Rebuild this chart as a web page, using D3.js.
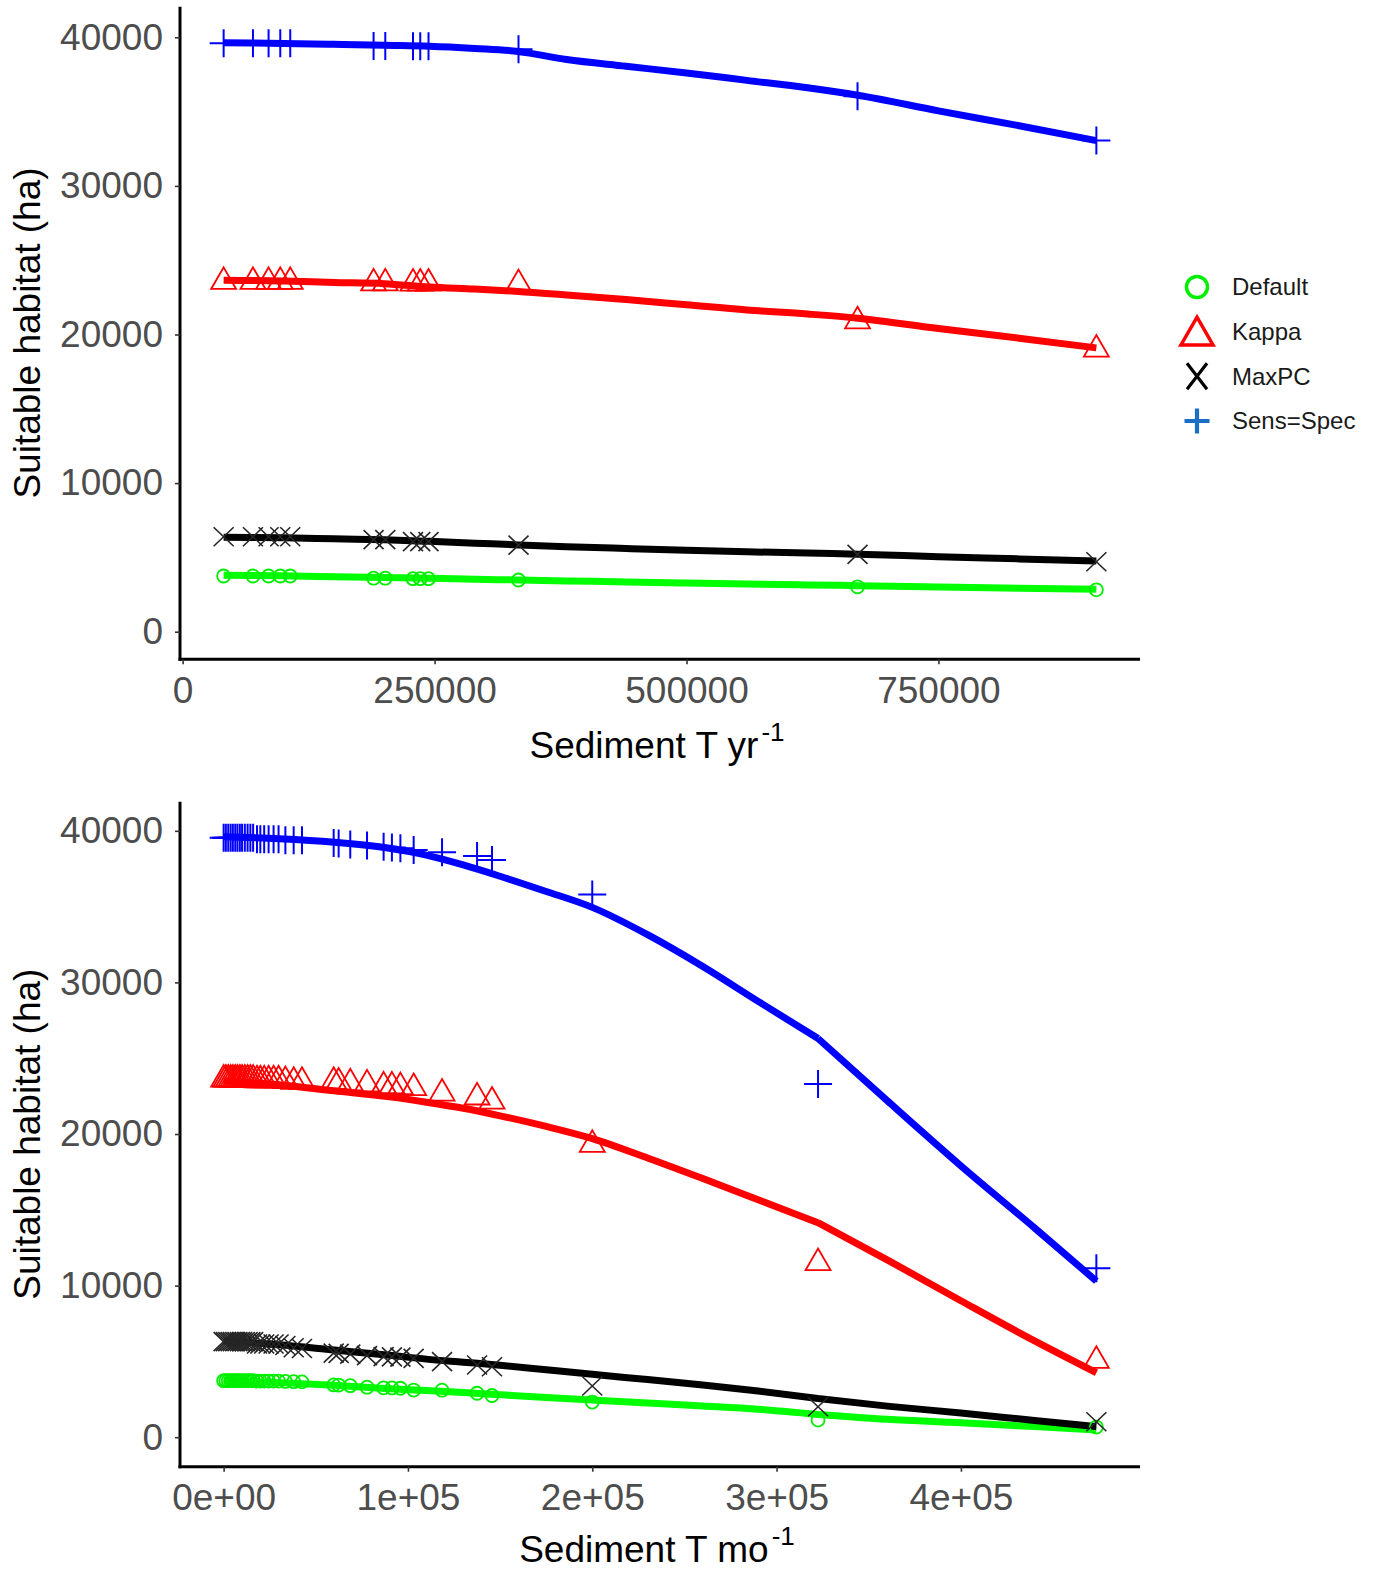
<!DOCTYPE html>
<html><head><meta charset="utf-8">
<script src="https://cdn.jsdelivr.net/npm/d3@7"></script>
<style>
body{margin:0;background:#fff}
svg{display:block}
text{font-family:"Liberation Sans",Arial,Helvetica,sans-serif}
</style>
</head><body>
<svg id="chart" width="1377" height="1573"></svg>
<script>
// ---------------- DATA ----------------
const seriesNames = ["Default", "Kappa", "MaxPC", "Sens=Spec"];
const yTicks = [0, 10000, 20000, 30000, 40000];
const topXTicks = [0, 250000, 500000, 750000];
const topXTickLabels = ["0", "250000", "500000", "750000"];
const bottomXTicks = [0, 100000, 200000, 300000, 400000];
const bottomXTickLabels = ["0e+00", "1e+05", "2e+05", "3e+05", "4e+05"];

// Top panel: Sediment T yr^-1 (observed points)
const topX = [40700, 69800, 85300, 96900, 106800, 189500, 201100, 228600, 235800, 244000, 333300, 669700, 906700];
const topDefault  = [3750, 3750, 3750, 3750, 3750, 3600, 3600, 3570, 3570, 3570, 3480, 3020, 2820];
const topKappa    = [23550, 23550, 23550, 23550, 23550, 23450, 23450, 23440, 23440, 23440, 23400, 20900, 19000];
const topMaxPC    = [6390, 6390, 6390, 6390, 6390, 6200, 6200, 6060, 6060, 6060, 5830, 5200, 4710];
const topSensSpec = [39600, 39600, 39600, 39600, 39600, 39420, 39420, 39400, 39400, 39400, 39190, 36030, 33060];

// Top panel: fitted lines
const topLineX = [40700, 100000, 150000, 200000, 245000, 290000, 333000, 381000, 440000, 500000, 560000, 620000, 670000, 750000, 830000, 906700];
const topLineDefault  = [3800, 3760, 3700, 3640, 3590, 3530, 3480, 3420, 3350, 3280, 3210, 3150, 3100, 3000, 2920, 2850];
const topLineKappa    = [23650, 23600, 23500, 23420, 23200, 23060, 22900, 22660, 22350, 22000, 21650, 21380, 21100, 20400, 19750, 19100];
const topLineMaxPC    = [6350, 6320, 6250, 6180, 6080, 5960, 5840, 5720, 5600, 5480, 5380, 5290, 5220, 5050, 4900, 4750];
const topLineSensSpec = [39630, 39590, 39530, 39460, 39400, 39250, 39050, 38500, 38050, 37600, 37100, 36600, 36100, 35050, 34050, 33050];

// Bottom panel: Sediment T mo^-1 (observed points)
const botX = [0, 1200, 2500, 3800, 5000, 6300, 7500, 8800, 10000, 11500, 13000, 14500, 16000, 18100, 19900, 22000, 24400, 27100, 29800, 33500, 38000, 42500, 59700, 62400, 68700, 77800, 86800, 91300, 95900, 103100, 118500, 137500, 145600, 200000, 322500, 473500];
const botDefault  = [3730, 3730, 3730, 3730, 3730, 3730, 3730, 3730, 3730, 3730, 3730, 3730, 3730, 3700, 3700, 3700, 3700, 3700, 3700, 3680, 3660, 3650, 3450, 3440, 3400, 3300, 3260, 3250, 3230, 3110, 3100, 2900, 2750, 2320, 1130, 670];
const botKappa    = [23600, 23600, 23600, 23600, 23600, 23600, 23600, 23600, 23600, 23600, 23600, 23600, 23600, 23550, 23550, 23550, 23550, 23550, 23550, 23500, 23450, 23450, 23450, 23400, 23350, 23280, 23150, 23150, 23100, 23040, 22680, 22420, 22150, 19300, 11500, 5050];
const botMaxPC    = [6300, 6300, 6300, 6300, 6300, 6300, 6300, 6300, 6300, 6300, 6300, 6300, 6300, 6150, 6150, 6150, 6150, 6150, 6150, 6050, 5900, 5850, 5550, 5530, 5480, 5380, 5310, 5300, 5280, 5200, 4980, 4760, 4650, 3380, 2010, 1020];
const botSensSpec = [39550, 39550, 39550, 39550, 39550, 39550, 39550, 39550, 39550, 39550, 39550, 39550, 39550, 39450, 39450, 39450, 39450, 39450, 39450, 39370, 39370, 39370, 39200, 39170, 39100, 39030, 38950, 38900, 38850, 38730, 38580, 38340, 38070, 35800, 23300, 11150];

// Bottom panel: fitted lines (kink at 322500)
const botLineX = [0, 30000, 60000, 90000, 110000, 130000, 150000, 175000, 200000, 230000, 260000, 290000, 322500, 360000, 400000, 440000, 473500];
const botLineDefault  = [3750, 3600, 3420, 3200, 3080, 2950, 2800, 2620, 2450, 2250, 2060, 1850, 1500, 1180, 950, 700, 470];
const botLineKappa    = [23500, 23250, 22850, 22450, 22100, 21700, 21200, 20500, 19700, 18420, 17060, 15660, 14150, 11700, 9000, 6350, 4250];
const botLineMaxPC    = [6350, 6100, 5750, 5400, 5150, 4950, 4750, 4450, 4150, 3800, 3450, 3050, 2550, 2050, 1600, 1100, 700];
const botLineSensSpec = [39600, 39480, 39250, 38850, 38400, 37750, 37000, 36000, 34950, 33150, 31050, 28750, 26300, 22200, 17900, 13800, 10300];

// ---------------- STYLE ----------------
const colors = {"Default": "#00ff00", "Kappa": "#ff0000", "MaxPC": "#000000", "Sens=Spec": "#0000ff"};
const markerColors = {"Default": "#00ee00", "Kappa": "#ff0000", "MaxPC": "#262626", "Sens=Spec": "#0000ff"};
const legendColors = {"Default": "#00ee00", "Kappa": "#ff0000", "MaxPC": "#000000", "Sens=Spec": "#1a6fc4"};
const shapes = {"Default": "circle", "Kappa": "triangle", "MaxPC": "x", "Sens=Spec": "plus"};
const FONT = '"Liberation Sans", Arial, Helvetica, sans-serif';

function shapePath(type, s) {
  const p = d3.path();
  if (type === "circle") {
    p.moveTo(s.r, 0); p.arc(0, 0, s.r, 0, 2 * Math.PI);
  } else if (type === "triangle") {
    const r = s.r, w = r * Math.sqrt(3) / 2;
    p.moveTo(0, -r); p.lineTo(w, r / 2); p.lineTo(-w, r / 2); p.closePath();
  } else if (type === "x") {
    const hx = s.hx, hy = s.hy;
    p.moveTo(-hx, -hy); p.lineTo(hx, hy); p.moveTo(-hx, hy); p.lineTo(hx, -hy);
  } else {
    const h = s.h;
    p.moveTo(-h, 0); p.lineTo(h, 0); p.moveTo(0, -h); p.lineTo(0, h);
  }
  return p.toString();
}
const plotShapeSize = {
  circle: {r: 6.5, sw: 1.8},
  triangle: {r: 14.4, sw: 1.8},
  x: {hx: 10, hy: 9.5, sw: 1.6},
  plus: {h: 14, sw: 2}
};
const legendShapeSize = {
  circle: {r: 10.5, sw: 3.5},
  triangle: {r: 18.5, sw: 3.5},
  x: {hx: 10, hy: 13, sw: 3.2},
  plus: {h: 12.5, sw: 4.2}
};

const svg = d3.select("#chart");
svg.append("rect").attr("width", 1377).attr("height", 1573).attr("fill", "#fff");

function drawPanel(cfg) {
  const x = d3.scaleLinear().domain(cfg.xDomain).range([180, 1140]);
  const y = d3.scaleLinear().domain(cfg.yDomain).range(cfg.yRange);
  const g = svg.append("g");

  // lines (smooth segments, split at kink)
  const line = d3.line().x(d => x(d[0])).y(d => y(d[1])).curve(d3.curveMonotoneX);
  seriesNames.forEach(name => {
    const pts = cfg.lineX.map((v, i) => [v, cfg.lines[name][i]]);
    const segs = cfg.kink != null ? [pts.slice(0, cfg.kink + 1), pts.slice(cfg.kink)] : [pts];
    const d = segs.map(s => line(s)).join("");
    g.append("path").attr("d", d)
      .attr("fill", "none").attr("stroke", colors[name])
      .attr("stroke-width", 7).attr("stroke-linejoin", "round");
  });
  // points
  seriesNames.forEach(name => {
    const type = shapes[name], s = plotShapeSize[type];
    const pts = cfg.pointX.map((v, i) => [v, cfg.points[name][i]]);
    g.append("g").selectAll("path").data(pts).join("path")
      .attr("transform", d => `translate(${x(d[0])},${y(d[1])})`)
      .attr("d", shapePath(type, s))
      .attr("fill", "none").attr("stroke", markerColors[name]).attr("stroke-width", s.sw);
  });

  // axes
  const gy = svg.append("g").attr("transform", "translate(180,0)")
    .call(d3.axisLeft(y).tickValues(yTicks).tickSize(5).tickSizeOuter(0).tickPadding(12).tickFormat(d3.format("d")));
  const gx = svg.append("g").attr("transform", `translate(0,${cfg.yRange[0]})`)
    .call(d3.axisBottom(x).tickValues(cfg.xTicks).tickSize(5).tickSizeOuter(0).tickPadding(12)
      .tickFormat((d, i) => cfg.xTickLabels[i]));
  [gx, gy].forEach(a => {
    a.select(".domain").attr("stroke", "#000").attr("stroke-width", 3);
    a.selectAll(".tick line").attr("stroke", "#333").attr("stroke-width", 1.6);
    a.selectAll(".tick text").attr("fill", "#4d4d4d").attr("font-size", 37).attr("font-family", FONT);
  });
  gy.select(".domain").attr("d", `M0,${cfg.yRange[1]}V${cfg.yRange[0] + 1.5}`);
  gx.select(".domain").attr("d", `M178.5,0H1140`);

  // axis titles
  const midY = (cfg.yRange[0] + cfg.yRange[1]) / 2;
  svg.append("text").attr("transform", `translate(40,${midY}) rotate(-90)`)
    .attr("text-anchor", "middle").attr("font-size", 37).attr("fill", "#000").attr("font-family", FONT)
    .text("Suitable habitat (ha)");
  const t = svg.append("text").attr("x", 657).attr("y", cfg.titleY)
    .attr("text-anchor", "middle").attr("font-size", 37).attr("fill", "#000").attr("font-family", FONT);
  t.append("tspan").text(cfg.xTitle);
  t.append("tspan").attr("dy", -17).attr("dx", 3).attr("font-size", 26).text("-1");
}

drawPanel({
  xDomain: [-2600, 950000], yDomain: [-1857, 42059], yRange: [659.3, 6.7],
  xTicks: topXTicks, xTickLabels: topXTickLabels,
  pointX: topX,
  points: {"Default": topDefault, "Kappa": topKappa, "MaxPC": topMaxPC, "Sens=Spec": topSensSpec},
  lineX: topLineX,
  lines: {"Default": topLineDefault, "Kappa": topLineKappa, "MaxPC": topLineMaxPC, "Sens=Spec": topLineSensSpec},
  kink: null,
  xTitle: "Sediment T yr", titleY: 758
});
drawPanel({
  xDomain: [-23675, 497175], yDomain: [-1946, 41920], yRange: [1466.7, 801.7],
  xTicks: bottomXTicks, xTickLabels: bottomXTickLabels,
  pointX: botX,
  points: {"Default": botDefault, "Kappa": botKappa, "MaxPC": botMaxPC, "Sens=Spec": botSensSpec},
  lineX: botLineX,
  lines: {"Default": botLineDefault, "Kappa": botLineKappa, "MaxPC": botLineMaxPC, "Sens=Spec": botLineSensSpec},
  kink: 12,
  xTitle: "Sediment T mo", titleY: 1562
});

// legend
const legendRowY = d3.scalePoint().domain(seriesNames).range([287, 421]);
const lg = svg.append("g");
seriesNames.forEach(name => {
  const type = shapes[name], s = legendShapeSize[type];
  const cy = legendRowY(name) + (type === "triangle" ? 4 : 0);
  lg.append("path").attr("transform", `translate(1197,${cy})`)
    .attr("d", shapePath(type, s)).attr("fill", "none")
    .attr("stroke", legendColors[name]).attr("stroke-width", s.sw);
  lg.append("text").attr("x", 1232).attr("y", legendRowY(name)).attr("dy", "0.35em")
    .attr("font-size", 24).attr("fill", "#1a1a1a").attr("font-family", FONT).text(name);
});
</script>
</body></html>
